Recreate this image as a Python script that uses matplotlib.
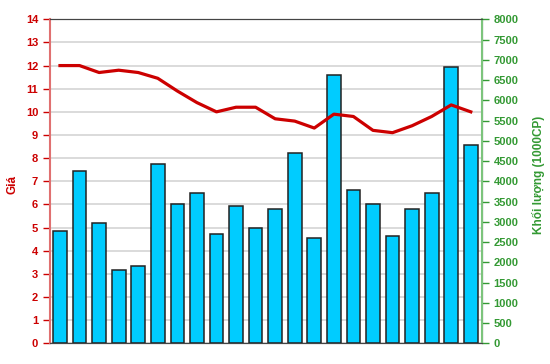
import numpy as np
import matplotlib.pyplot as plt

plt.rcParams['font.family'] = ['Liberation Sans', 'DejaVu Sans']

# price (left axis) and volume in 1000 shares (right axis), one per session
price = [12.0, 12.0, 11.7, 11.8, 11.7, 11.45, 10.9, 10.4, 10.0, 10.2, 10.2,
         9.7, 9.6, 9.3, 9.9, 9.8, 9.2, 9.1, 9.4, 9.8, 10.3, 10.0]
volume = [2780, 4250, 2960, 1820, 1905, 4430, 3450, 3700, 2690, 3400, 2840,
          3320, 4710, 2600, 6625, 3785, 3450, 2650, 3325, 3700, 6810, 4890]

price_ticks = list(range(0, 15))
volume_ticks = list(range(0, 8001, 500))

red = '#CC0000'
green = '#339933'

fig = plt.figure(figsize=(5.5, 3.64), dpi=100)
ax = fig.add_axes([0.0909, 0.057, 0.785, 0.89])
ax2 = ax.twinx()

x = np.arange(len(volume))

# grid on the price axis (lines up with the volume ticks too)
ax.set_ylim(0, 14)
ax.set_yticks(price_ticks)
ax.grid(axis='y', color='#DADADA', lw=1.4, zorder=0)
ax.set_axisbelow(True)

ax2.bar(x, volume, width=0.7, color='#00CCFF', edgecolor='#222222', lw=1.1, zorder=2)
ax2.set_ylim(0, 8000)
ax2.set_yticks(volume_ticks)

# line drawn on top of the bars
ax3 = ax.twinx()
ax3.plot(x, price, color=red, lw=2.3, zorder=5)
ax3.set_ylim(0, 14)
ax3.axis('off')

for a in (ax, ax2, ax3):
    a.set_xlim(-0.51, 21.56)
ax.set_xticks([])

ax.tick_params(axis='y', colors=red, labelsize=8, length=5, width=1)
for t in ax.get_yticklabels():
    t.set_fontweight('bold')
ax2.tick_params(axis='y', colors=green, labelsize=8, length=5, width=1)
for t in ax2.get_yticklabels():
    t.set_fontweight('bold')

ax.spines['left'].set_color('#E07070')
ax.spines['left'].set_linewidth(1.5)
ax2.spines['right'].set_color('#7CC47C')
ax2.spines['right'].set_linewidth(1.5)
for a in (ax, ax2):
    a.spines['top'].set_color('#444444')
    a.spines['bottom'].set_color('#444444')
ax2.spines['left'].set_visible(False)

# axis titles placed by hand so they sit where the reference has them
fig.text(13 / 550, 1 - 185 / 364, 'Giá', color=red, fontsize=8.5, fontweight='bold',
         rotation=90, ha='center', va='center')
fig.text(538 / 550, 1 - 175 / 364, 'Khối lượng (1000CP)', color=green, fontsize=8.5,
         fontweight='bold', rotation=90, ha='center', va='center',
         family=['Liberation Sans Narrow', 'Liberation Sans', 'DejaVu Sans'])

fig.savefig('out.png', dpi=100)
